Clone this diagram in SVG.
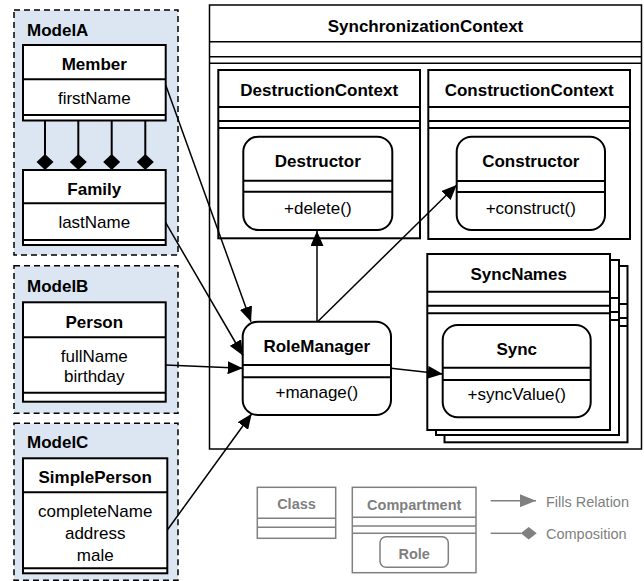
<svg xmlns="http://www.w3.org/2000/svg" width="644" height="581" viewBox="0 0 644 581">
<style>
text{font-family:"Liberation Sans",Arial,sans-serif;font-size:17px;fill:#000}
.b{font-weight:bold}
.c{text-anchor:middle}
.box{fill:#fff;stroke:#000;stroke-width:2}
.thin{fill:#fff;stroke:#000;stroke-width:1.5}
.ln{stroke:#000;stroke-width:2;fill:none}
.ln1{stroke:#000;stroke-width:1.5;fill:none}
.model{fill:#dce6f2;stroke:#000;stroke-width:1.5;stroke-dasharray:6 4}
.con{stroke:#000;stroke-width:1.5;fill:none;marker-end:url(#arr)}
.g{stroke:#808080;stroke-width:1.5;fill:#fff}
.gl{stroke:#808080;stroke-width:1.5;fill:none}
.gt{fill:#7f7f7f;font-size:14.5px}
</style>
<defs>
<marker id="arr" markerWidth="15" markerHeight="13" refX="15" refY="6.5" orient="auto" markerUnits="userSpaceOnUse"><path d="M0,0 L15,6.5 L0,13 z" fill="#000"/></marker>
<marker id="garr" markerWidth="16" markerHeight="13" refX="16" refY="6.5" orient="auto" markerUnits="userSpaceOnUse"><path d="M0,0 L16,6.5 L0,13 z" fill="#808080"/></marker>
</defs>

<g id="ModelA">
<rect class="model" x="14" y="10" width="164" height="245"/>
<text class="b" x="27" y="36">ModelA</text>
</g>
<g id="Member">
<rect class="box" x="23" y="45" width="142.7" height="75.5"/>
<line class="ln" x1="23" y1="79.3" x2="165.7" y2="79.3"/>
<line class="ln" x1="23" y1="115" x2="165.7" y2="115"/>
<text class="b c" x="94.3" y="70">Member</text>
<text class="c" x="94.3" y="103.5">firstName</text>
</g>
<g id="Family">
<rect class="box" x="23" y="170" width="142.7" height="75"/>
<line class="ln" x1="23" y1="203.3" x2="165.7" y2="203.3"/>
<line class="ln" x1="23" y1="240" x2="165.7" y2="240"/>
<text class="b c" x="94.3" y="195">Family</text>
<text class="c" x="94.3" y="228">lastName</text>
</g>
<g id="ModelB">
<rect class="model" x="14" y="265.7" width="164" height="147.6"/>
<text class="b" x="27" y="291.7">ModelB</text>
</g>
<g id="Person">
<rect class="box" x="23" y="302.3" width="142.7" height="99.4"/>
<line class="ln" x1="23" y1="337.3" x2="165.7" y2="337.3"/>
<line class="ln" x1="23" y1="392.7" x2="165.7" y2="392.7"/>
<text class="b c" x="94.3" y="328">Person</text>
<text class="c" x="94.3" y="361.7">fullName</text>
<text class="c" x="94.3" y="381.5">birthday</text>
</g>
<g id="ModelC">
<rect class="model" x="14" y="423.3" width="164" height="157"/>
<text class="b" x="27" y="448.3">ModelC</text>
</g>
<g id="SimplePerson">
<rect class="box" x="23" y="458.3" width="144.3" height="115"/>
<line class="ln" x1="23" y1="492.3" x2="167.3" y2="492.3"/>
<line class="ln" x1="23" y1="568.3" x2="167.3" y2="568.3"/>
<text class="b c" x="95.2" y="483.3">SimplePerson</text>
<text class="c" x="95.2" y="516.7">completeName</text>
<text class="c" x="95.2" y="539">address</text>
<text class="c" x="95.2" y="560.7">male</text>
</g>

<g id="SynchronizationContext">
<rect class="thin" x="209.5" y="5" width="432" height="444"/>
<line class="ln1" x1="209.5" y1="41.7" x2="641.5" y2="41.7"/>
<line class="ln1" x1="209.5" y1="56.7" x2="641.5" y2="56.7"/>
<line class="ln1" x1="209.5" y1="63.3" x2="641.5" y2="63.3"/>
<text class="b c" x="425.5" y="31.5">SynchronizationContext</text>
</g>
<g id="DestructionContext">
<rect class="box" x="218.3" y="70" width="201.7" height="168.3"/>
<line class="ln" x1="218.3" y1="107" x2="420" y2="107"/>
<line class="ln" x1="218.3" y1="121" x2="420" y2="121"/>
<line class="ln" x1="218.3" y1="128" x2="420" y2="128"/>
<text class="b c" x="319.2" y="96">DestructionContext</text>
</g>
<g id="Destructor">
<rect class="box" x="243.3" y="136.7" width="149" height="93.3" rx="15"/>
<line class="ln" x1="243.3" y1="180.7" x2="392.3" y2="180.7"/>
<line class="ln" x1="243.3" y1="191.7" x2="392.3" y2="191.7"/>
<text class="b c" x="317.8" y="167">Destructor</text>
<text class="c" x="317.8" y="214">+delete()</text>
</g>
<g id="ConstructionContext">
<rect class="box" x="428.3" y="70" width="201.7" height="169"/>
<line class="ln" x1="428.3" y1="107" x2="630" y2="107"/>
<line class="ln" x1="428.3" y1="121" x2="630" y2="121"/>
<line class="ln" x1="428.3" y1="128" x2="630" y2="128"/>
<text class="b c" x="529.2" y="96">ConstructionContext</text>
</g>
<g id="Constructor">
<rect class="box" x="456.7" y="136.7" width="148.3" height="93.3" rx="15"/>
<line class="ln" x1="456.7" y1="181" x2="605" y2="181"/>
<line class="ln" x1="456.7" y1="192" x2="605" y2="192"/>
<text class="b c" x="530.8" y="167">Constructor</text>
<text class="c" x="530.8" y="214">+construct()</text>
</g>
<g id="SyncNames">
<rect class="box" x="444.5" y="266" width="183" height="176.3"/>
<line class="ln" x1="444.5" y1="304" x2="627.5" y2="304"/>
<line class="ln" x1="444.5" y1="318" x2="627.5" y2="318"/>
<line class="ln" x1="444.5" y1="326" x2="627.5" y2="326"/>
<rect class="box" x="436" y="260" width="183" height="175"/>
<line class="ln" x1="436" y1="298" x2="619" y2="298"/>
<line class="ln" x1="436" y1="312" x2="619" y2="312"/>
<line class="ln" x1="436" y1="320" x2="619" y2="320"/>
<rect class="box" x="427.3" y="254" width="182.7" height="176"/>
<line class="ln" x1="427.3" y1="291.7" x2="610" y2="291.7"/>
<line class="ln" x1="427.3" y1="305.7" x2="610" y2="305.7"/>
<line class="ln" x1="427.3" y1="313.3" x2="610" y2="313.3"/>
<text class="b c" x="518.7" y="279.5">SyncNames</text>
</g>
<g id="Sync">
<rect class="box" x="442.7" y="325" width="148" height="92.3" rx="15"/>
<line class="ln" x1="442.7" y1="367.7" x2="590.7" y2="367.7"/>
<line class="ln" x1="442.7" y1="380" x2="590.7" y2="380"/>
<text class="b c" x="516.7" y="355">Sync</text>
<text class="c" x="516.7" y="400">+syncValue()</text>
</g>
<g id="RoleManager">
<rect class="box" x="242.7" y="321.7" width="148.3" height="93.3" rx="15"/>
<line class="ln" x1="242.7" y1="365" x2="391" y2="365"/>
<line class="ln" x1="242.7" y1="377.3" x2="391" y2="377.3"/>
<text class="b c" x="316.8" y="351.7">RoleManager</text>
<text class="c" x="316.8" y="398">+manage()</text>
</g>

<g id="connectors">
<line class="ln" x1="45" y1="120" x2="45" y2="155"/>
<line class="ln" x1="78.3" y1="120" x2="78.3" y2="155"/>
<line class="ln" x1="111.7" y1="120" x2="111.7" y2="155"/>
<line class="ln" x1="145.3" y1="120" x2="145.3" y2="155"/>
<path d="M45,154 L53.5,162 L45,170 L36.5,162 z" fill="#000"/>
<path d="M78.3,154 L86.8,162 L78.3,170 L69.8,162 z" fill="#000"/>
<path d="M111.7,154 L120.2,162 L111.7,170 L103.2,162 z" fill="#000"/>
<path d="M145.3,154 L153.8,162 L145.3,170 L136.8,162 z" fill="#000"/>
<line class="con" x1="165.7" y1="85" x2="251" y2="321.7"/>
<line class="con" x1="165.7" y1="222.7" x2="243" y2="355.5"/>
<line class="con" x1="165.7" y1="365" x2="242.7" y2="368.3"/>
<line class="con" x1="167.3" y1="530" x2="251.7" y2="413.8"/>
<line class="con" x1="317" y1="321.7" x2="317" y2="231"/>
<line class="con" x1="318.3" y1="321" x2="456.7" y2="185"/>
<line class="con" x1="391" y1="368.3" x2="442.7" y2="374"/>
</g>

<g id="legend">
<rect class="g" x="257.3" y="487.3" width="78.4" height="51"/>
<line class="gl" x1="257.3" y1="518.3" x2="335.7" y2="518.3"/>
<line class="gl" x1="257.3" y1="527.3" x2="335.7" y2="527.3"/>
<text class="b c gt" x="296.5" y="509">Class</text>
<rect class="g" x="352.3" y="487.3" width="123.7" height="85.4"/>
<line class="gl" x1="352.3" y1="517.3" x2="476" y2="517.3"/>
<line class="gl" x1="352.3" y1="526" x2="476" y2="526"/>
<line class="gl" x1="352.3" y1="533.3" x2="476" y2="533.3"/>
<text class="b c gt" x="414.2" y="510">Compartment</text>
<rect class="g" x="380" y="536.7" width="68.3" height="30.6" rx="6"/>
<text class="b c gt" x="414.2" y="559.3">Role</text>
<line class="gl" x1="490.7" y1="500.7" x2="536" y2="500.7" marker-end="url(#garr)"/>
<text class="gt" x="546" y="506.5">Fills Relation</text>
<line class="gl" x1="490.7" y1="533.3" x2="521" y2="533.3"/>
<path d="M520.7,533.3 L528.7,527 L536.7,533.3 L528.7,539.6 z" fill="#808080"/>
<text class="gt" x="546" y="538.5">Composition</text>
</g>
</svg>
